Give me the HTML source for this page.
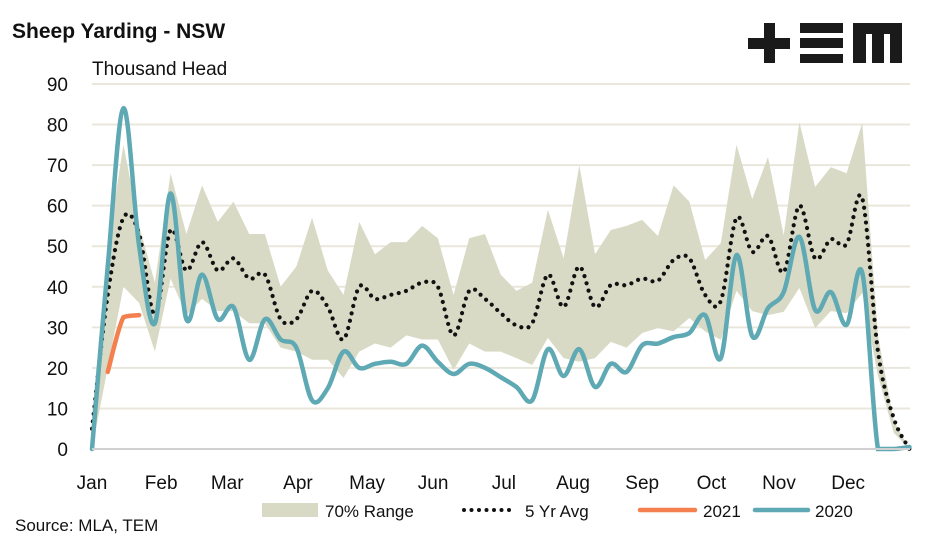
<!DOCTYPE html>
<html><head><meta charset="utf-8"><style>
body{margin:0;background:#fff;}
svg text{font-family:"Liberation Sans",sans-serif;fill:#111;}
</style></head><body>
<svg id="chart" width="947" height="543" viewBox="0 0 947 543" xmlns="http://www.w3.org/2000/svg">
<text x="12" y="38" font-size="21" font-weight="bold">Sheep Yarding - NSW</text>
<text x="92" y="75" font-size="19">Thousand Head</text>
<g fill="#1a1a1a">
<rect x="748" y="38" width="42" height="11"/><rect x="764" y="23" width="11" height="40"/>
<rect x="800" y="23" width="43" height="10"/><rect x="800" y="38" width="43" height="10"/><rect x="800" y="54" width="43" height="9"/>
<rect x="853" y="23" width="49" height="11"/><rect x="853" y="23" width="13" height="40"/><rect x="872" y="23" width="12" height="40"/><rect x="890" y="23" width="12" height="40"/>
</g>
<g id="grid"></g><g id="plot"></g><g id="axes"></g>
<g>
<rect x="262" y="503" width="56" height="14" fill="#d9dac5"/>
<text x="325" y="517" font-size="17">70% Range</text>
<line x1="464" y1="510" x2="515" y2="510" stroke="#111" stroke-width="4" stroke-linecap="round" stroke-dasharray="0 7.5"/>
<text x="525" y="517" font-size="17">5 Yr Avg</text>
<line x1="640" y1="510" x2="695" y2="510" stroke="#f4804f" stroke-width="4.5" stroke-linecap="round"/>
<text x="703" y="517" font-size="17">2021</text>
<line x1="755" y1="510" x2="808" y2="510" stroke="#5ea9b3" stroke-width="4.5" stroke-linecap="round"/>
<text x="815" y="517" font-size="17">2020</text>
</g>
<text x="15" y="531" font-size="17">Source: MLA, TEM</text>
</svg>
<script>
const months=["Jan","Feb","Mar","Apr","May","Jun","Jul","Aug","Sep","Oct","Nov","Dec"];
const yTicks=[0,10,20,30,40,50,60,70,80,90];
const rangeHigh=[8,50,75,55,41,68,53,65,56,61,53,53,40,45,57,44,38,56,48,51,51,55,52,38,52,53,43,39,41,59,47,70,48,54,55,56.5,52.5,65,61,46.6,50.8,75,61.6,72,52.7,80.6,64.6,69.5,68,80.4,28,7,0];
const rangeLow=[0,20,40,36,24,42,33,37,34,34,31,31,25,24,22,22,17.5,24,26,25,28,27,27,19.5,26,24,24,22.4,20.7,27.4,22.4,21.5,22.4,26.4,25,28.6,29.8,29,32.3,29,26.9,39,34,33,33.8,39.7,29.8,34,33.5,38.5,18,4,0];
const avg5=[5,38,57,53,33,54,44,51,44,47,42,43,32,32,39,35,27,40,37,38,39,41,40,28,39,37,33.5,30.5,31,43,35,45,35,40.4,40.4,42,41.5,46.6,47,38,36.5,57,48.6,52.5,43.6,60,47,51.7,50.5,61.8,24,7.6,0];
const y2020=[0,45,84,50,31,63,32,43,32,35,22,32,27,25,12,15,24,20,21,21.5,21,25.5,21.5,18.5,21,20,17.7,15.3,12,24.6,18,24.6,15.3,21,19,25.6,26,27.6,28.6,33,22.4,47.8,27.8,34.7,38.7,52.3,34.3,38.7,30.6,43.4,0,0,0.5];
const y2021=[null,19,32.5,33];
const monthWeek=[0,4.4,8.6,13.1,17.5,21.7,26.2,30.6,35,39.4,43.7,48.1];
const X0=92,WK=15.72,Y0=449,YS=4.056;
const xs=i=>X0+i*WK, ys=v=>Y0-v*YS;
const NS="http://www.w3.org/2000/svg";
function mk(tag,attrs,parent){const e=document.createElementNS(NS,tag);for(const k in attrs)e.setAttribute(k,attrs[k]);parent.appendChild(e);return e;}
const grid=document.getElementById('grid'),plot=document.getElementById('plot'),axes=document.getElementById('axes');
yTicks.forEach(t=>{
 if(t>0){const l=mk('line',{x1:92,x2:910,y1:ys(t),y2:ys(t),stroke:'#e9e7dc','stroke-width':2},grid);
 
 }
 const tx=mk('text',{x:68,y:ys(t)+7,'font-size':19,'text-anchor':'end'},axes);tx.textContent=t;
 
 
});
const base=mk('line',{x1:92,x2:910,y1:Y0,y2:Y0,stroke:'#d0d0d0','stroke-width':2},axes);


months.forEach((m,i)=>{const tx=mk('text',{x:xs(monthWeek[i]),y:489,'font-size':19,'text-anchor':'middle'},axes);tx.textContent=m;
 
 });
let d='M'+rangeHigh.map((v,i)=>xs(i)+','+ys(v)).join('L');
for(let i=rangeLow.length-1;i>=0;i--)d+='L'+xs(i)+','+ys(rangeLow[i]);
const area=mk('path',{d:d+'Z',fill:'#d9dac5'},plot);


function smooth(pts,bounded){const cl=(y,a,b)=>{y=Math.min(y,Y0);if(bounded){y=Math.max(Math.min(a,b),Math.min(Math.max(a,b),y));}return y;};
 let s='M'+pts[0][0]+','+pts[0][1];for(let i=0;i<pts.length-1;i++){const p0=pts[i-1]||pts[i],p1=pts[i],p2=pts[i+1],p3=pts[i+2]||p2;
 const c1y=cl(p1[1]+(p2[1]-p0[1])/6,p1[1],p2[1]),c2y=cl(p2[1]-(p3[1]-p1[1])/6,p1[1],p2[1]);
 s+='C'+(p1[0]+(p2[0]-p0[0])/6)+','+c1y+' '+(p2[0]-(p3[0]-p1[0])/6)+','+c2y+' '+p2[0]+','+p2[1];}return s;}
function pts(arr){const r=[];arr.forEach((v,i)=>{if(v!==null)r.push([xs(i),ys(v)]);});return r;}
const av=mk('path',{d:smooth(pts(avg5),false),fill:'none',stroke:'#111','stroke-width':4.2,'stroke-linecap':'round','stroke-dasharray':'0 7.5'},plot);


const l21=mk('path',{d:smooth(pts(y2021),true),fill:'none',stroke:'#f4804f','stroke-width':4.5,'stroke-linecap':'round'},plot);


const l20=mk('path',{d:smooth(pts(y2020),false),fill:'none',stroke:'#5ea9b3','stroke-width':4.5,'stroke-linecap':'round'},plot);


</script>
</body></html>
